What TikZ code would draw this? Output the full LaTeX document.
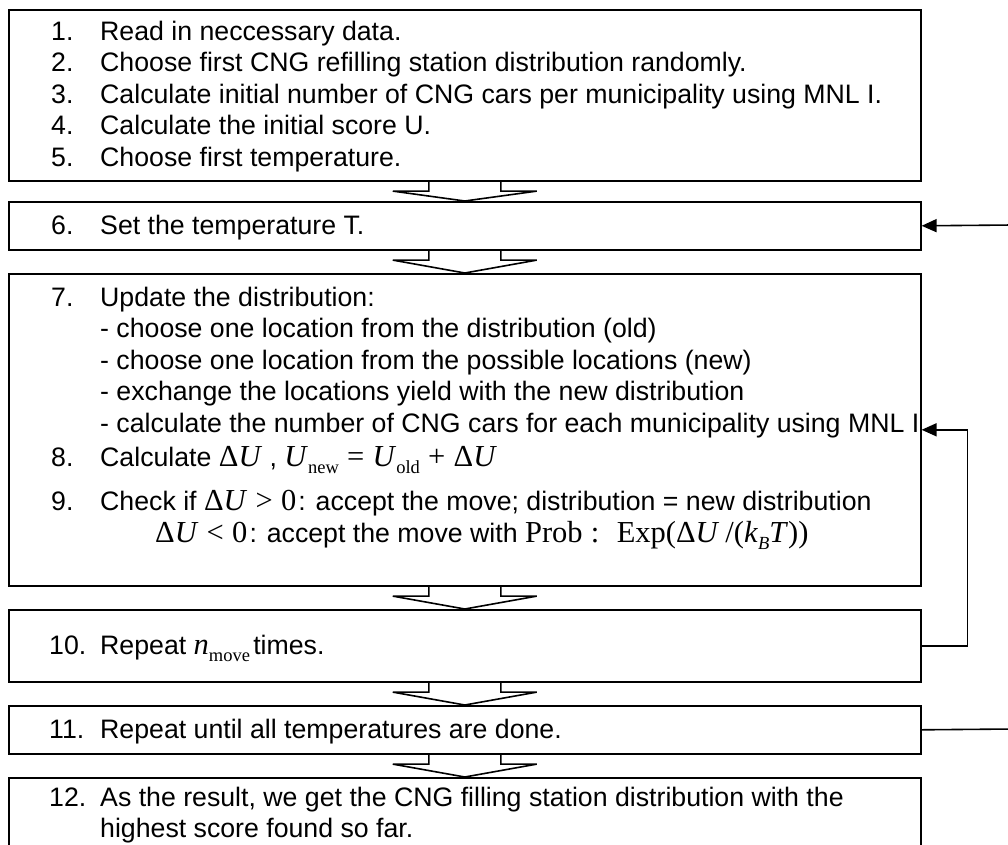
\documentclass[tikz,border=0pt]{standalone}
\usepackage{fontspec}
\setmainfont{Liberation Sans}
\newfontfamily\tnr{Liberation Serif}
\usetikzlibrary{arrows.meta}

% formula pieces in a Times-like face
\newcommand\mfont{\tnr\fontsize{30.5}{30.5}\selectfont}
\newcommand\mth[1]{{\mfont #1}}
\newcommand\lowsub[1]{\raisebox{-0.26em}{\fontsize{18.5}{18.5}\selectfont #1}}
\newcommand\rel[1]{\hspace{0.27em}#1\hspace{0.27em}}
\newcommand\dU{Δ\textit{U}}

\tikzset{
  x=1pt, y=-1pt,
  stepbox/.style={draw, line width=1.6pt, rectangle, inner sep=0pt,
    minimum width=912pt, anchor=north west},
  txt/.style={anchor=base west, inner sep=0pt, font=\fontsize{26.7}{31.5}\selectfont},
  hollow/.style={draw, line width=1.6pt, line join=miter},
  loopline/.style={draw, line width=1.6pt},
  looparrow/.style={loopline, -{Triangle[length=15pt,width=13pt]}},
}

% hollow downward block arrow from one step box to the next
\newcommand\blockarrow[2]{%
  \draw[hollow] ([xshift=-36pt]#1.south) -- ++(0,9.5) -- ++(-36,0)
    -- (#2.north) -- ([shift={(72,9.5)}]#1.south)
    -- ([shift={(36,9.5)}]#1.south) -- ([xshift=36pt]#1.south);}

% numbered line: name, baseline, number, text
\newcommand\numline[5][51]{%
  \node[txt] (#2n) at (#1,#3) {#4};
  \node[txt] (#2t) at (100,#3) {#5};}

\begin{document}
\begin{tikzpicture}
\useasboundingbox (0,0) rectangle (1008,844);
\clip (0,0) rectangle (1008,844);
\fill[white] (0,0) rectangle (1008,844);

% step boxes
\node[stepbox, minimum height=171pt] (b1) at (8,9) {};
\node[stepbox, minimum height=48pt]  (b2) at (8,201) {};
\node[stepbox, minimum height=312pt] (b3) at (8,273) {};
\node[stepbox, minimum height=72pt]  (b4) at (8,609) {};
\node[stepbox, minimum height=48pt]  (b5) at (8,705) {};
\node[stepbox, minimum height=90pt]  (b6) at (8,777) {};

% box 1
\numline{l1}{40}{1.}{Read in neccessary data.}
\numline{l2}{71.5}{2.}{Choose first CNG refilling station distribution randomly.}
\numline{l3}{103}{3.}{Calculate initial number of CNG cars per municipality using MNL I.}
\numline{l4}{134.5}{4.}{Calculate the initial score U.}
\numline{l5}{166}{5.}{Choose first temperature.}

% box 2
\numline{l6}{234.5}{6.}{Set the temperature T.}

% box 3
\numline{l7}{306}{7.}{Update the distribution:}
\node[txt] (d1) at (100,337.5) {- choose one location from the distribution (old)};
\node[txt] (d2) at (100,369) {- choose one location from the possible locations (new)};
\node[txt] (d3) at (100,400.5) {- exchange the locations yield with the new distribution};
\node[txt] (d4) at (100,432) {- calculate the number of CNG cars for each municipality using MNL I};
\numline{l8}{466}{8.}{Calculate \mth{\dU} , \mth{\textit{U}\lowsub{new}\rel{=}\textit{U}\lowsub{old}\rel{+}\dU}}
\numline{l9}{510}{9.}{Check if \mth{\dU\rel{>}0}\hspace{0.08em}: accept the move; distribution = new distribution}
\node[txt] (l9b) at (155,542) {\mth{\dU\rel{<}0}\hspace{0.08em}: accept the move with \mth{Prob\rel{:}\hspace{0.3em}Exp(\dU\hspace{0.2em}/(\textit{k}\lowsub{\textit{B}}\textit{T}))}};

% box 4
\numline[49]{l10}{654}{10.}{Repeat \mth{\textit{n}\lowsub{move}}\hspace{0.12em}times.}

% box 5
\numline[49]{l11}{738}{11.}{Repeat until all temperatures are done.}

% box 6
\numline[49]{l12}{806}{12.}{As the result, we get the CNG filling station distribution with the}
\node[txt] (l12b) at (100,837) {highest score found so far.};

% block arrows between steps
\blockarrow{b1}{b2}
\blockarrow{b2}{b3}
\blockarrow{b3}{b4}
\blockarrow{b4}{b5}
\blockarrow{b5}{b6}

% loops
\coordinate (tempin) at (1012,225);
\coordinate (tempout) at (1012,729);
\draw[looparrow] (tempin) -- (b2.east);
\draw[loopline] (b5.east) -- (tempout);
\draw[looparrow] (b4.east) -- ++(46,0) |- (b3.east);
\end{tikzpicture}
\end{document}
